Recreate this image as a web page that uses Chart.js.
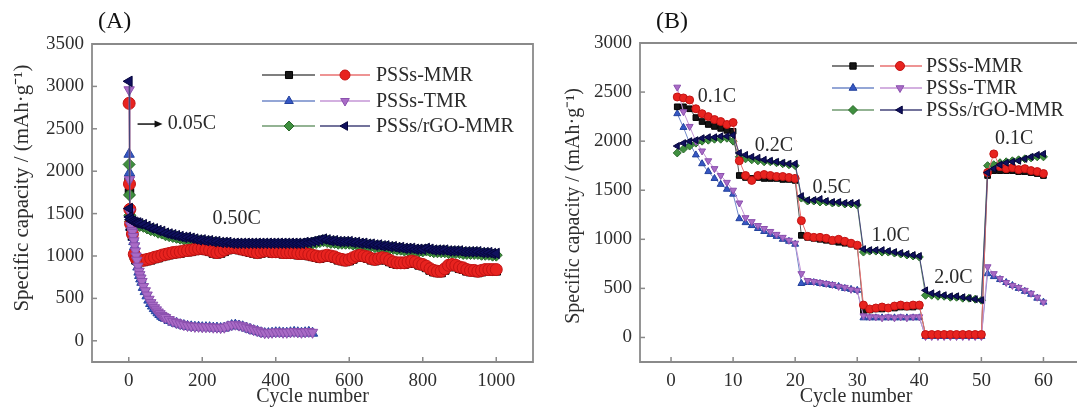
<!DOCTYPE html>
<html>
<head>
<meta charset="utf-8">
<script src="https://cdn.jsdelivr.net/npm/chart.js@4.4.0/dist/chart.umd.min.js"></script>
<style>
  body { margin: 0; background: #fff; width: 1077px; height: 408px; overflow: hidden; position: relative; }
  #chartA { position: absolute; left: 0; top: 0; }
  #chartB { position: absolute; left: 540px; top: 0; }
</style>
</head>
<body>
<canvas id="chartA" width="540" height="408"></canvas>
<canvas id="chartB" width="537" height="408"></canvas>
<script>
// ---------- (A) long cycling, capacity in mAh/g ----------
const cyclesA = [1, 2, 3, 5, 10, 15, 20, 25, 30,
  40, 50, 60, 70, 80, 90, 100, 110, 120, 130, 140, 150, 160, 170, 180, 190, 200,
  210, 220, 230, 240, 250, 260, 270, 280, 290, 300, 310, 320, 330, 340, 350, 360,
  370, 380, 390, 400, 410, 420, 430, 440, 450, 460, 470, 480, 490, 500,
  510, 520, 530, 540, 550, 560, 570, 580, 590, 600, 610, 620, 630, 640, 650, 660,
  670, 680, 690, 700, 710, 720, 730, 740, 750, 760, 770, 780, 790, 800,
  810, 820, 830, 840, 850, 860, 870, 880, 890, 900, 910, 920, 930, 940, 950, 960,
  970, 980, 990, 1000];

const mmrDischargeA = [2800, 1850, 1550, 1380, 1260, 1020, 970, 955, 950,
  950, 960, 970, 985, 995, 1010, 1020, 1030, 1040, 1045, 1050, 1060, 1065, 1070, 1080, 1085, 1090,
  1080, 1070, 1050, 1040, 1050, 1070, 1090, 1100, 1100, 1090, 1080, 1070, 1060, 1050, 1040, 1050,
  1060, 1060, 1050, 1050, 1050, 1040, 1040, 1040, 1040, 1030, 1030, 1030, 1020, 1010,
  1000, 990, 1000, 1010, 1000, 990, 970, 960, 950, 960, 980, 1000, 1010, 1000, 990, 970,
  960, 970, 980, 970, 950, 930, 920, 920, 920, 930, 940, 930, 910, 900,
  880, 850, 830, 820, 820, 850, 890, 900, 890, 870, 860, 840, 830, 830, 820, 830,
  840, 840, 840, 840];

const mmrChargeA = [1870, 1750, 1500, 1350, 1240, 1005, 955, 940, 935,
  935, 945, 955, 970, 980, 995, 1005, 1015, 1025, 1030, 1035, 1045, 1050, 1055, 1065, 1070, 1075,
  1065, 1055, 1035, 1025, 1035, 1055, 1075, 1085, 1085, 1075, 1065, 1055, 1045, 1035, 1025, 1035,
  1045, 1045, 1035, 1035, 1035, 1025, 1025, 1025, 1025, 1015, 1015, 1015, 1005, 995,
  985, 975, 985, 995, 985, 975, 955, 945, 935, 945, 965, 985, 995, 985, 975, 955,
  945, 955, 965, 955, 935, 915, 905, 905, 905, 915, 925, 915, 895, 885,
  865, 835, 815, 805, 805, 835, 875, 885, 875, 855, 845, 825, 815, 815, 805, 815,
  825, 825, 825, 825];

const rgoDischargeA = [3060, 1560, 1460, 1430, 1410, 1400, 1390, 1390, 1380,
  1370, 1350, 1330, 1320, 1300, 1290, 1270, 1260, 1250, 1240, 1230, 1220, 1220, 1210, 1200, 1190, 1190,
  1180, 1180, 1170, 1170, 1160, 1160, 1160, 1150, 1150, 1150, 1150, 1150, 1150, 1150, 1150, 1150,
  1150, 1150, 1150, 1150, 1150, 1150, 1150, 1150, 1150, 1150, 1150, 1160, 1160, 1170,
  1180, 1190, 1200, 1190, 1180, 1180, 1170, 1170, 1170, 1170, 1160, 1160, 1150, 1150, 1140, 1140,
  1130, 1130, 1120, 1120, 1110, 1110, 1100, 1100, 1090, 1090, 1090, 1080, 1080, 1080,
  1090, 1080, 1070, 1070, 1070, 1070, 1060, 1060, 1060, 1060, 1050, 1050, 1050, 1050, 1050, 1040,
  1040, 1040, 1030, 1030];

const rgoChargeA = [2080, 1720, 1480, 1410, 1390, 1380, 1370, 1370, 1360,
  1350, 1330, 1310, 1300, 1280, 1270, 1250, 1240, 1230, 1220, 1210, 1200, 1200, 1190, 1180, 1170, 1170,
  1160, 1160, 1150, 1150, 1140, 1140, 1140, 1130, 1130, 1130, 1130, 1130, 1130, 1130, 1130, 1130,
  1130, 1130, 1130, 1130, 1130, 1130, 1130, 1130, 1130, 1130, 1130, 1140, 1140, 1150,
  1160, 1170, 1180, 1170, 1160, 1160, 1150, 1150, 1150, 1150, 1140, 1140, 1130, 1130, 1120, 1120,
  1110, 1110, 1100, 1100, 1090, 1090, 1080, 1080, 1070, 1070, 1070, 1060, 1060, 1060,
  1070, 1060, 1050, 1050, 1050, 1050, 1040, 1040, 1040, 1040, 1030, 1030, 1030, 1030, 1030, 1020,
  1020, 1020, 1010, 1010];

// PSSs-TMR was only run to 500 cycles; denser sampling over the steep fade
const cyclesTmrA = [1, 2, 3, 5, 8, 10, 12, 14, 16, 18, 20, 22, 25, 28, 30, 33, 36, 40,
  45, 50, 55, 60, 65, 70, 75, 80, 85, 90, 95, 100, 110, 120, 130, 140, 150, 160, 170,
  180, 190, 200, 210, 220, 230, 240, 250, 260, 270, 280, 290, 300, 310, 320, 330, 340,
  350, 360, 370, 380, 390, 400, 410, 420, 430, 440, 450, 460, 470, 480, 490, 500];

const tmrDischargeA = [2960, 1900, 1520, 1360, 1300, 1280, 1230, 1180, 1120, 1060, 1000, 950, 880, 820, 780, 740, 700, 640,
  590, 540, 490, 450, 420, 390, 365, 340, 320, 300, 285, 275, 250, 230, 215, 200, 190, 180, 175,
  170, 170, 165, 165, 165, 160, 160, 155, 160, 175, 190, 195, 185, 175, 160, 145, 130,
  120, 105, 95, 95, 100, 105, 105, 100, 100, 105, 110, 105, 100, 105, 110, 100];

const tmrChargeA = [2200, 1980, 1500, 1340, 1290, 1270, 1220, 1170, 1110, 1050, 990, 940, 870, 810, 770, 730, 690, 630,
  580, 530, 480, 440, 410, 380, 355, 330, 310, 290, 275, 265, 240, 220, 205, 190, 180, 170, 165,
  160, 160, 155, 155, 155, 150, 150, 145, 150, 165, 180, 185, 175, 165, 150, 135, 120,
  110, 95, 85, 85, 90, 95, 95, 90, 90, 95, 100, 95, 90, 95, 100, 90];

const xTicksA = [0, 200, 400, 600, 800, 1000];
const yTicksA = [0, 500, 1000, 1500, 2000, 2500, 3000, 3500];

// ---------- (B) rate capability ----------
const cyclesB = [1, 2, 3, 4, 5, 6, 7, 8, 9, 10, 11, 12, 13, 14, 15, 16, 17, 18, 19, 20,
  21, 22, 23, 24, 25, 26, 27, 28, 29, 30, 31, 32, 33, 34, 35, 36, 37, 38, 39, 40,
  41, 42, 43, 44, 45, 46, 47, 48, 49, 50, 51, 52, 53, 54, 55, 56, 57, 58, 59, 60];

const mmrChargeB = [2350, 2350, 2330, 2240, 2200, 2170, 2150, 2130, 2110, 2100,
  1650, 1630, 1620, 1630, 1620, 1620, 1620, 1610, 1610, 1600,
  1040, 1020, 1010, 1000, 990, 980, 970, 960, 950, 930,
  270, 280, 290, 290, 300, 300, 310, 310, 310, 320,
  30, 30, 30, 30, 30, 30, 30, 30, 30, 30,
  1650, 1700, 1700, 1700, 1700, 1690, 1690, 1680, 1670, 1650];

const mmrDischargeB = [2450, 2440, 2420, 2330, 2280, 2250, 2220, 2200, 2170, 2190,
  1800, 1650, 1600, 1650, 1660, 1650, 1640, 1640, 1630, 1620,
  1190, 1030, 1020, 1020, 1010, 990, 1000, 980, 960, 940,
  330, 290, 300, 310, 300, 320, 330, 320, 330, 330,
  30, 30, 30, 30, 30, 30, 30, 30, 30, 30,
  1680, 1870, 1740, 1720, 1730, 1710, 1720, 1700, 1690, 1670];

const tmrChargeB = [2280, 2140, 1980, 1860, 1770, 1690, 1620, 1560, 1510, 1460,
  1210, 1170, 1140, 1110, 1080, 1050, 1030, 1000, 980, 950,
  550, 560, 560, 550, 540, 530, 520, 500, 490, 480,
  200, 200, 200, 200, 200, 200, 200, 200, 200, 200,
  10, 10, 10, 10, 10, 10, 10, 10, 10, 10,
  650, 620, 590, 560, 530, 500, 470, 440, 400, 360];

const tmrDischargeB = [2550, 2300, 2150, 2000, 1900, 1800, 1720, 1650, 1580, 1500,
  1370, 1220, 1180, 1140, 1110, 1080, 1050, 1020, 990, 960,
  650, 580, 570, 560, 550, 540, 520, 510, 490, 480,
  220, 210, 210, 200, 210, 200, 210, 200, 210, 210,
  10, 10, 10, 10, 10, 10, 10, 10, 10, 10,
  720, 650, 600, 560, 530, 510, 480, 450, 410, 360];

const rgoChargeB = [1880, 1920, 1950, 1980, 2000, 2010, 2020, 2020, 2030, 2000,
  1840, 1820, 1810, 1800, 1790, 1790, 1780, 1770, 1760, 1750,
  1420, 1390, 1390, 1380, 1380, 1370, 1370, 1360, 1360, 1350,
  870, 880, 880, 870, 870, 860, 850, 840, 830, 820,
  430, 430, 420, 420, 410, 410, 400, 400, 390, 380,
  1750, 1760, 1780, 1790, 1800, 1810, 1820, 1830, 1840, 1840];

const rgoDischargeB = [1950, 1980, 2000, 2010, 2030, 2040, 2040, 2050, 2050, 2060,
  1880, 1860, 1840, 1830, 1810, 1800, 1790, 1780, 1770, 1770,
  1440, 1400, 1400, 1410, 1390, 1380, 1380, 1370, 1370, 1370,
  900, 890, 890, 890, 880, 870, 860, 850, 840, 830,
  480, 450, 440, 430, 420, 420, 410, 400, 390, 380,
  1680, 1720, 1760, 1780, 1790, 1800, 1820, 1840, 1860, 1870];

const xTicksB = [0, 10, 20, 30, 40, 50, 60];
const yTicksB = [0, 500, 1000, 1500, 2000, 2500, 3000];

const seriesNames = ["PSSs-MMR", "PSSs-TMR", "PSSs/rGO-MMR"];
const rateLabelsB = ["0.1C", "0.2C", "0.5C", "1.0C", "2.0C", "0.1C"];

// ---------- styles ----------
const SERIF = "'Liberation Serif', 'Times New Roman', serif";
const TXT = "#2e2e2e";
const FRAME = "#8a8a8a";
const YTITLE = "Specific capacity / (mAh·g⁻¹)";

const st = {
  mmrC: { fill: "#151515", edge: "#000000", line: "#555555", shape: "rect", rot: 0 },
  mmrD: { fill: "#e8231f", edge: "#c21414", line: "#e87070", shape: "circle", rot: 0 },
  tmrC: { fill: "#3557c4", edge: "#23419c", line: "#7088c8", shape: "triangle", rot: 0 },
  tmrD: { fill: "#a96bc6", edge: "#8b50ae", line: "#c596d6", shape: "triangle", rot: 180 },
  rgoC: { fill: "#3f8f3f", edge: "#2a6a2a", line: "#6f9a6f", shape: "rectRot", rot: 0 },
  rgoD: { fill: "#10105e", edge: "#05053c", line: "#45457a", shape: "triangle", rot: -90 }
};

function makeDataset(label, xs, ys, s, r) {
  return {
    label: label,
    data: ys.map((y, i) => ({ x: xs[i], y: y })),
    borderColor: s.line,
    borderWidth: 1,
    pointStyle: s.shape,
    pointRotation: s.rot,
    pointRadius: r,
    pointBackgroundColor: s.fill,
    pointBorderColor: s.edge,
    pointBorderWidth: 1,
    tension: 0
  };
}

// frame, inner ticks, y title, paired legend and rate labels
const decorPlugin = {
  id: "decor",
  afterDatasetsDraw(chart, args, o) {
    const ctx = chart.ctx;
    const a = chart.chartArea;
    const xs = chart.scales.x, ys = chart.scales.y;
    ctx.save();

    // frame
    ctx.strokeStyle = FRAME;
    ctx.lineWidth = 1.8;
    ctx.beginPath();
    if (o.openRight) {
      ctx.moveTo(chart.width, a.top);
      ctx.lineTo(a.left, a.top);
      ctx.lineTo(a.left, a.bottom);
      ctx.lineTo(chart.width, a.bottom);
    } else {
      ctx.rect(a.left, a.top, a.right - a.left, a.bottom - a.top);
    }
    ctx.stroke();

    // inner tick marks
    ctx.lineWidth = 1.5;
    xs.ticks.forEach(t => {
      const px = xs.getPixelForValue(t.value);
      ctx.beginPath(); ctx.moveTo(px, a.bottom); ctx.lineTo(px, a.bottom - 5); ctx.stroke();
    });
    ys.ticks.forEach(t => {
      const py = ys.getPixelForValue(t.value);
      ctx.beginPath(); ctx.moveTo(a.left, py); ctx.lineTo(a.left + 5, py); ctx.stroke();
    });

    // y axis title
    ctx.save();
    ctx.translate(o.yTitle.x, o.yTitle.y);
    ctx.rotate(-Math.PI / 2);
    ctx.fillStyle = TXT;
    ctx.font = o.yTitle.size + "px " + SERIF;
    ctx.textAlign = "center";
    ctx.textBaseline = "middle";
    ctx.fillText(YTITLE, 0, 0);
    ctx.restore();

    // panel letter
    ctx.fillStyle = "#111";
    ctx.font = "24px " + SERIF;
    ctx.textBaseline = "middle";
    ctx.textAlign = "left";
    ctx.fillText(o.letter, o.letterX, o.letterY);

    // legend: two marker-on-line samples per material
    const lg = o.legend;
    const pairs = [[st.mmrC, st.mmrD], [st.tmrC, st.tmrD], [st.rgoC, st.rgoD]];
    pairs.forEach((p, i) => {
      const y = lg.rows[i];
      [[lg.s1, lg.e1, lg.m1, p[0]], [lg.s2, lg.e2, lg.m2, p[1]]].forEach(seg => {
        const s = seg[3];
        ctx.strokeStyle = s.line;
        ctx.lineWidth = 1.5;
        ctx.beginPath(); ctx.moveTo(seg[0], y); ctx.lineTo(seg[1], y); ctx.stroke();
        ctx.fillStyle = s.fill;
        ctx.strokeStyle = s.edge;
        ctx.lineWidth = 1;
        Chart.helpers.drawPoint(ctx, { pointStyle: s.shape, rotation: s.rot, radius: lg.r, borderWidth: 1 }, seg[2], y);
      });
      ctx.fillStyle = "#2a2a2a";
      ctx.font = lg.font + "px " + SERIF;
      ctx.textAlign = "left";
      ctx.fillText(seriesNames[i], lg.tx, y + 1);
    });

    // rate labels placed in data coordinates
    ctx.fillStyle = "#2a2a2a";
    ctx.font = "20px " + SERIF;
    o.notes.forEach(n => {
      ctx.fillText(n.text, xs.getPixelForValue(n.x), ys.getPixelForValue(n.y));
    });
    if (o.arrow) {
      const x0 = xs.getPixelForValue(o.arrow.x0), x1 = xs.getPixelForValue(o.arrow.x1);
      const y = ys.getPixelForValue(o.arrow.y);
      ctx.strokeStyle = "#111";
      ctx.lineWidth = 1.5;
      ctx.beginPath(); ctx.moveTo(x0, y); ctx.lineTo(x1 - 4, y); ctx.stroke();
      ctx.fillStyle = "#111";
      ctx.beginPath(); ctx.moveTo(x1, y); ctx.lineTo(x1 - 8, y - 3.5); ctx.lineTo(x1 - 8, y + 3.5); ctx.closePath(); ctx.fill();
    }
    ctx.restore();
  }
};

function axis(min, max, tickVals, fitSize, isX, tickPad) {
  const sc = {
    type: "linear",
    min: min,
    max: max,
    afterBuildTicks: s => { s.ticks = tickVals.map(v => ({ value: v })); },
    afterFit: s => { if (isX) s.height = fitSize; else s.width = fitSize; },
    grid: { display: false, drawTicks: false },
    border: { display: false },
    ticks: {
      font: { family: SERIF, size: 19 }, color: TXT, padding: tickPad,
      maxRotation: 0, autoSkip: false, callback: v => String(v)
    }
  };
  if (isX) {
    sc.title = {
      display: true, text: "Cycle number", color: TXT,
      font: { family: SERIF, size: 20, lineHeight: 1 }, padding: { top: 0, bottom: 1 }
    };
  }
  return sc;
}

new Chart(document.getElementById("chartA"), {
  type: "line",
  data: {
    datasets: [
      makeDataset("PSSs/rGO-MMR", cyclesA, rgoDischargeA, st.rgoD, 6),
      makeDataset("PSSs-TMR", cyclesTmrA, tmrDischargeA, st.tmrD, 6),
      makeDataset("PSSs-MMR", cyclesA, mmrDischargeA, st.mmrD, 6),
      makeDataset("PSSs/rGO-MMR", cyclesA, rgoChargeA, st.rgoC, 6),
      makeDataset("PSSs-MMR", cyclesA, mmrChargeA, st.mmrC, 6),
      makeDataset("PSSs-TMR", cyclesTmrA, tmrChargeA, st.tmrC, 6)
    ]
  },
  options: {
    responsive: false,
    animation: false,
    layout: { padding: { top: 44, right: 7, left: 0, bottom: 0 } },
    plugins: {
      legend: { display: false },
      tooltip: { enabled: false },
      decor: {
        letter: "(A)", letterX: 98, letterY: 22,
        yTitle: { x: 22, y: 188, size: 21 },
        legend: { rows: [75, 101, 126], s1: 262, e1: 315, m1: 289, s2: 320, e2: 370, m2: 345, tx: 376, r: 5, font: 20 },
        notes: [{ text: "0.05C", x: 106, y: 2556 }, { text: "0.50C", x: 228, y: 1442 }],
        arrow: { x0: 24, x1: 92, y: 2556 }
      }
    },
    scales: {
      x: axis(-100, 1100, xTicksA, 46, true, 8),
      y: axis(-250, 3500, yTicksA, 92, false, 8)
    }
  },
  plugins: [decorPlugin]
});

new Chart(document.getElementById("chartB"), {
  type: "line",
  data: {
    datasets: [
      makeDataset("PSSs/rGO-MMR", cyclesB, rgoDischargeB, st.rgoD, 4),
      makeDataset("PSSs-MMR", cyclesB, mmrDischargeB, st.mmrD, 4),
      makeDataset("PSSs-TMR", cyclesB, tmrDischargeB, st.tmrD, 4),
      makeDataset("PSSs-MMR", cyclesB, mmrChargeB, st.mmrC, 4),
      makeDataset("PSSs/rGO-MMR", cyclesB, rgoChargeB, st.rgoC, 4),
      makeDataset("PSSs-TMR", cyclesB, tmrChargeB, st.tmrC, 4)
    ]
  },
  options: {
    responsive: false,
    animation: false,
    layout: { padding: { top: 43, right: 0, left: 0, bottom: 0 } },
    plugins: {
      legend: { display: false },
      tooltip: { enabled: false },
      decor: {
        letter: "(B)", letterX: 116, letterY: 22, openRight: true,
        yTitle: { x: 34, y: 206, size: 20 },
        legend: { rows: [66, 88, 110], s1: 292, e1: 334, m1: 313, s2: 340, e2: 382, m2: 360, tx: 386, r: 4.5, font: 20 },
        notes: [
          { text: rateLabelsB[0], x: 4.3, y: 2456 },
          { text: rateLabelsB[1], x: 13.5, y: 1953 },
          { text: rateLabelsB[2], x: 22.8, y: 1521 },
          { text: rateLabelsB[3], x: 32.3, y: 1038 },
          { text: rateLabelsB[4], x: 42.4, y: 606 },
          { text: rateLabelsB[5], x: 52.2, y: 2025 }
        ]
      }
    },
    scales: {
      x: axis(-5, 64.6, xTicksB, 46, true, 8),
      y: axis(-250, 3000, yTicksB, 100, false, 8)
    }
  },
  plugins: [decorPlugin]
});
</script>
</body>
</html>
